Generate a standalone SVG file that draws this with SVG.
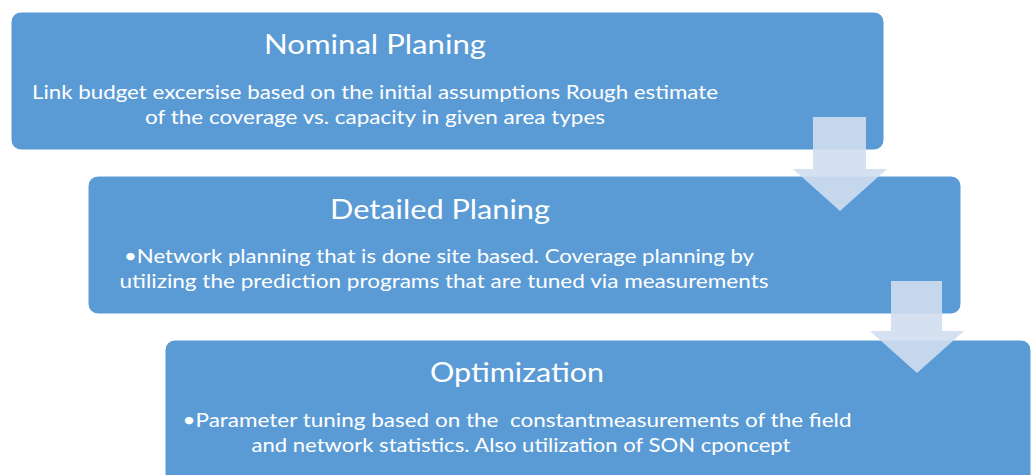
<svg xmlns="http://www.w3.org/2000/svg" width="1034" height="475" viewBox="0 0 1034 475">
<style>
.box{fill:#5b9bd5;stroke:#ffffff;stroke-width:1}
.arrow{fill:#d0deef;fill-opacity:0.9}
.title{font-family:Lato,"Open Sans","Liberation Sans",sans-serif;font-size:26px;fill:#ffffff;text-anchor:middle}
.body{font-family:Lato,"Open Sans","Liberation Sans",sans-serif;font-size:20px;fill:#ffffff;text-anchor:middle}
</style>
<rect width="1034" height="475" fill="#ffffff"/>
<g id="node-nominal">
<rect class="box" x="11" y="12" width="873" height="138" rx="10" ry="10"/>
<text class="title" x="375" y="54" textLength="222" lengthAdjust="spacingAndGlyphs">Nominal Planing</text>
<text class="body" x="375" y="99" textLength="686" lengthAdjust="spacingAndGlyphs">Link budget excersise based on the initial assumptions Rough estimate</text>
<text class="body" x="375" y="124" textLength="460" lengthAdjust="spacingAndGlyphs">of the coverage vs. capacity in given area types</text>
</g>
<g id="node-detailed">
<rect class="box" x="88" y="176" width="873" height="138" rx="10" ry="10"/>
<text class="title" x="440" y="219" textLength="220" lengthAdjust="spacingAndGlyphs">Detailed Planing</text>
<text class="body" x="439" y="263" textLength="630" lengthAdjust="spacingAndGlyphs">•Network planning that is done site based. Coverage planning by</text>
<text class="body" x="444" y="288" textLength="649" lengthAdjust="spacingAndGlyphs">utilizing the prediction programs that are tuned via measurements</text>
</g>
<g id="node-optimization">
<rect class="box" x="165" y="340" width="866" height="150" rx="10" ry="10"/>
<text class="title" x="517" y="382" textLength="174" lengthAdjust="spacingAndGlyphs">Optimization</text>
<text class="body" x="517" y="427" textLength="669" lengthAdjust="spacingAndGlyphs" xml:space="preserve">•Parameter tuning based on the  constantmeasurements of the field</text>
<text class="body" x="521" y="452" textLength="539" lengthAdjust="spacingAndGlyphs">and network statistics. Also utilization of SON cponcept</text>
</g>
<g id="connectors">
<polygon class="arrow" points="813,117 866,117 866,169 887,169 840,211 793,169 813,169"/>
<polygon class="arrow" points="891,281 942,281 942,331 964,331 917,373 870,331 891,331"/>
</g>
</svg>
